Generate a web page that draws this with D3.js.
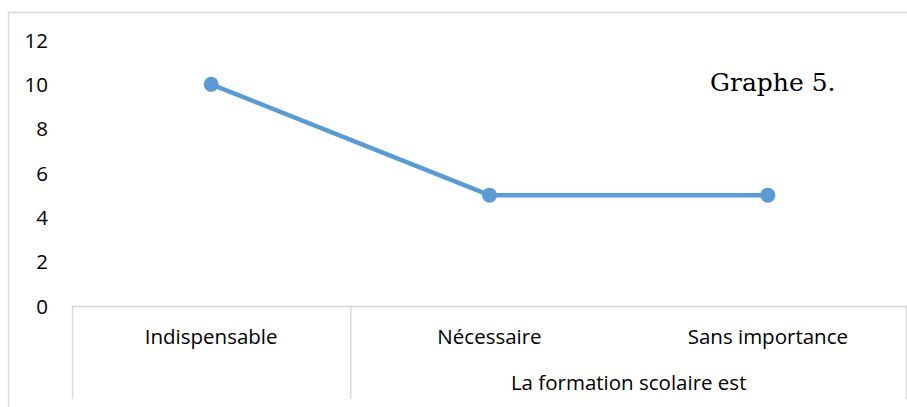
<!DOCTYPE html>
<html>
<head>
<meta charset="utf-8">
<script src="https://cdn.jsdelivr.net/npm/d3@7"></script>
<style>
  html, body { margin: 0; padding: 0; background: #fff; }
  svg { display: block; }
</style>
</head>
<body>
<svg id="chart" width="907" height="407"></svg>
<script>
// Data
const categories = ["Indispensable", "Nécessaire", "Sans importance"];
const values = [10, 5, 5];
const yTicks = [0, 2, 4, 6, 8, 10, 12];
const groupLabel = "La formation scolaire est";
const note = "Graphe 5.";

const W = 907, H = 407;
const svg = d3.select("#chart");
const font = "'Open Sans', sans-serif";
const fontSize = 20.5;
const gridColor = "#d9d9d9";
const lineColor = "#5b9bd5";

const plot = { left: 72, right: 907, top: 40, bottom: 306 };

const x = d3.scaleBand().domain(categories).range([plot.left, plot.right]).padding(0);
const y = d3.scaleLinear().domain([0, 12]).range([plot.bottom, plot.top]);

// Outer frame: top and left edges
svg.append("line").attr("x1", 8).attr("x2", W).attr("y1", 12.5).attr("y2", 12.5)
  .attr("stroke", gridColor).attr("stroke-width", 1.5);
svg.append("line").attr("x1", 8.5).attr("x2", 8.5).attr("y1", 12).attr("y2", H)
  .attr("stroke", gridColor).attr("stroke-width", 1.5);

// Category axis baseline
svg.append("line").attr("x1", plot.left).attr("x2", plot.right)
  .attr("y1", y(0) + 0.5).attr("y2", y(0) + 0.5)
  .attr("stroke", gridColor).attr("stroke-width", 1.5);

// Category dividers: outer boundaries and group separator
const dividers = [
  { x: x(categories[0]), y2: 399 },
  { x: x(categories[1]), y2: 399 },
  { x: plot.right - 1, y2: 399 }
];
svg.selectAll("line.div").data(dividers).join("line").attr("class", "div")
  .attr("x1", d => d.x + 0.5).attr("x2", d => d.x + 0.5)
  .attr("y1", y(0)).attr("y2", d => d.y2)
  .attr("stroke", gridColor).attr("stroke-width", 1.5);

// Y axis labels
const yAxis = d3.axisLeft(y).tickValues(yTicks).tickSize(0).tickPadding(0);
const gy = svg.append("g").attr("transform", `translate(48,0)`).call(yAxis);
gy.select(".domain").remove();
gy.selectAll("text").attr("font-family", font).attr("font-size", fontSize).attr("fill", "#000")
  .attr("dy", "0.35em");

// Category labels
svg.selectAll("text.cat").data(categories).join("text").attr("class", "cat")
  .attr("x", d => x(d) + x.bandwidth() / 2).attr("y", 344)
  .attr("text-anchor", "middle").attr("font-family", font).attr("font-size", fontSize)
  .attr("fill", "#000").text(d => d);

// Group label spanning the last two categories
svg.append("text")
  .attr("x", (x(categories[1]) + plot.right) / 2).attr("y", 390)
  .attr("text-anchor", "middle").attr("font-family", font).attr("font-size", fontSize)
  .attr("fill", "#000").text(groupLabel);

// Series line
const line = d3.line().x((d, i) => x(categories[i]) + x.bandwidth() / 2).y(d => y(d));
svg.append("path").datum(values).attr("d", line)
  .attr("fill", "none").attr("stroke", lineColor).attr("stroke-width", 4.5)
  .attr("stroke-linejoin", "round");

svg.selectAll("circle.pt").data(values).join("circle").attr("class", "pt")
  .attr("cx", (d, i) => x(categories[i]) + x.bandwidth() / 2)
  .attr("cy", d => y(d)).attr("r", 7.5).attr("fill", lineColor);

// Annotation
svg.append("text").attr("x", 710).attr("y", 91)
  .attr("font-family", "'DejaVu Serif', serif").attr("font-size", 25)
  .attr("fill", "#000").text(note);
</script>
</body>
</html>
